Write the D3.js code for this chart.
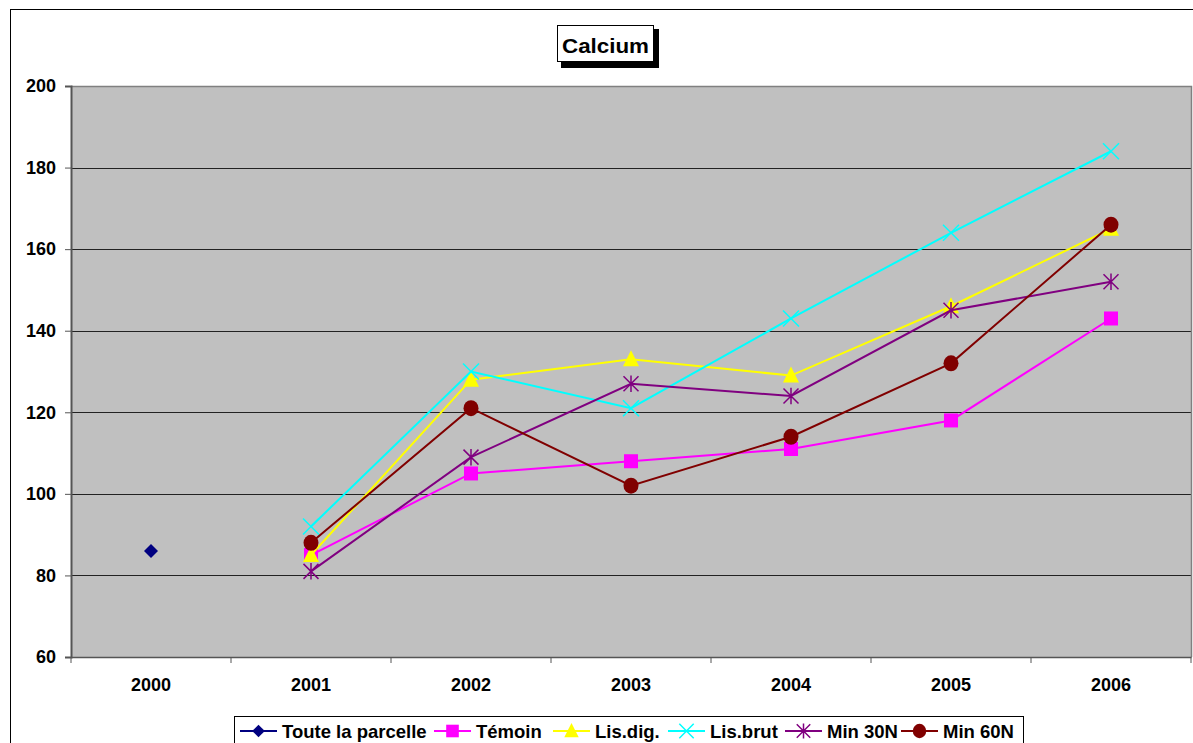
<!DOCTYPE html>
<html><head><meta charset="utf-8">
<script src="https://cdn.jsdelivr.net/npm/d3@7"></script>
<style>body{margin:0;background:#fff;}svg{display:block;font-family:"Liberation Sans",Arial,sans-serif;}</style>
</head><body>
<svg id="c" width="1193" height="743"></svg>
<script>
const years = ["2000","2001","2002","2003","2004","2005","2006"];
const yTicks = [60,80,100,120,140,160,180,200];
const touteLaParcelle = [86,null,null,null,null,null,null];
const temoin = [null,85,105,108,111,118,143];
const lisDig = [null,85,128,133,129,146,165];
const lisBrut = [null,92,130,121,143,164,184];
const min30N = [null,81,109,127,124,145,152];
const min60N = [null,88,121,102,114,132,166];
const seriesNames = ["Toute la parcelle","Témoin","Lis.dig.","Lis.brut","Min 30N","Min 60N"];
const seriesValues = [touteLaParcelle,temoin,lisDig,lisBrut,min30N,min60N];
const seriesColors = ["#000080","#FF00FF","#FFFF00","#00FFFF","#800080","#800000"];
const seriesMarkers = ["diamond","square","triangle","x","star","circle"];

const FONT = "'Liberation Sans',Arial,sans-serif";
const svg = d3.select("#c");
const L=71, R=1191, T=86, B=657;
const x = d3.scaleBand().domain(years).range([L,R]);
const y = d3.scaleLinear().domain([60,200]).range([B,T]);

// outer border
svg.append("rect").attr("x",10.5).attr("y",9.5).attr("width",1200).attr("height",760)
  .attr("fill","#fff").attr("stroke","#000").attr("stroke-width",1);

// plot area
svg.append("rect").attr("x",L).attr("y",T).attr("width",R-L).attr("height",B-T).attr("fill","#C0C0C0");
// gridlines
svg.append("g").selectAll("line").data(yTicks.filter(d=>d>60&&d<200)).join("line")
  .attr("x1",L).attr("x2",R).attr("y1",d=>Math.round(y(d))+0.5).attr("y2",d=>Math.round(y(d))+0.5)
  .attr("stroke","#222").attr("stroke-width",1);
// border
svg.append("path").attr("d",`M${L},${T+0.5}H${R+0.5}V${B}`).attr("fill","none").attr("stroke","#808080").attr("stroke-width",1.5);

// y axis
const yAx = svg.append("g").attr("transform",`translate(${L},0)`)
  .call(d3.axisLeft(y).tickValues(yTicks).tickSize(6).tickPadding(9).tickFormat(d3.format("d")));
yAx.select(".domain").attr("stroke","#555").attr("stroke-width",2);
yAx.selectAll(".tick line").attr("stroke","#555");
yAx.selectAll("text").attr("font-size",18).attr("font-weight","bold").attr("fill","#000")
  .attr("font-family",FONT);

// x axis
const xAx = svg.append("g").attr("transform",`translate(0,${B})`)
  .call(d3.axisBottom(x).tickSize(0).tickPadding(21));
xAx.select(".domain").attr("stroke","#555").attr("stroke-width",1.5);
xAx.selectAll("text").attr("font-size",18).attr("font-weight","bold").attr("fill","#000")
  .attr("font-family",FONT);
const bounds = years.map(d=>x(d)).concat([R]);
svg.append("g").selectAll("line").data(bounds).join("line")
  .attr("x1",d=>d).attr("x2",d=>d).attr("y1",B).attr("y2",B+6).attr("stroke","#555");

function drawMarker(g, type, color, cx, cy, scale=1){
  const s=scale;
  if(type==="diamond"){
    g.append("path").attr("d",`M${cx},${cy-7*s}L${cx+7*s},${cy}L${cx},${cy+7*s}L${cx-7*s},${cy}Z`).attr("fill",color);
  } else if(type==="square"){
    g.append("rect").attr("x",cx-7*s).attr("y",cy-7*s).attr("width",14*s).attr("height",14*s).attr("fill",color);
  } else if(type==="triangle"){
    g.append("path").attr("d",`M${cx},${cy-9*s}L${cx+8*s},${cy+7*s}L${cx-8*s},${cy+7*s}Z`).attr("fill",color);
  } else if(type==="x"){
    const a=8*s;
    g.append("path").attr("d",`M${cx-a},${cy-a}L${cx+a},${cy+a}M${cx-a},${cy+a}L${cx+a},${cy-a}`).attr("stroke",color).attr("stroke-width",1.5);
  } else if(type==="star"){
    const a=7.5*s;
    g.append("path").attr("d",`M${cx-a},${cy-a}L${cx+a},${cy+a}M${cx-a},${cy+a}L${cx+a},${cy-a}M${cx},${cy-a*1.1}L${cx},${cy+a*1.1}`).attr("stroke",color).attr("stroke-width",1.5);
  } else if(type==="circle"){
    g.append("ellipse").attr("cx",cx).attr("cy",cy).attr("rx",7.5*s).attr("ry",8*s).attr("fill",color);
  }
}

const line = d3.line().defined(d=>d.v!=null).x(d=>x(d.k)+x.bandwidth()/2).y(d=>y(d.v));
seriesValues.forEach((vals,i)=>{
  const g = svg.append("g");
  const data = years.map((k,j)=>({k,v:vals[j]}));
  g.append("path").attr("d",line(data)).attr("fill","none").attr("stroke",seriesColors[i]).attr("stroke-width",2);
  data.filter(d=>d.v!=null).forEach(d=>drawMarker(g,seriesMarkers[i],seriesColors[i],x(d.k)+x.bandwidth()/2,y(d.v)));
});

// title
const tg = svg.append("g");
tg.append("rect").attr("x",561).attr("y",29).attr("width",98).attr("height",39).attr("fill","#000");
tg.append("rect").attr("x",557.5).attr("y",25.5).attr("width",96).attr("height",36).attr("fill","#fff").attr("stroke","#000");
tg.append("text").attr("x",562).attr("y",52.5).attr("font-size",21).attr("font-weight","bold")
  .attr("textLength",87).attr("lengthAdjust","spacingAndGlyphs").text("Calcium");

// legend
const lg = svg.append("g");
lg.append("rect").attr("x",234.5).attr("y",716.5).attr("width",789).attr("height",40).attr("fill","#fff").attr("stroke","#000");
const itemX = [240,434,553,668,785,901];
seriesNames.forEach((n,i)=>{
  const ix=itemX[i], cy=731;
  lg.append("line").attr("x1",ix).attr("x2",ix+37).attr("y1",cy).attr("y2",cy).attr("stroke",seriesColors[i]).attr("stroke-width",2);
  drawMarker(lg,seriesMarkers[i],seriesColors[i],ix+18.5,cy,0.9);
  lg.append("text").attr("x",ix+42).attr("y",738).attr("font-size",18.5).attr("font-weight","bold").text(n);
});
</script>
</body></html>
